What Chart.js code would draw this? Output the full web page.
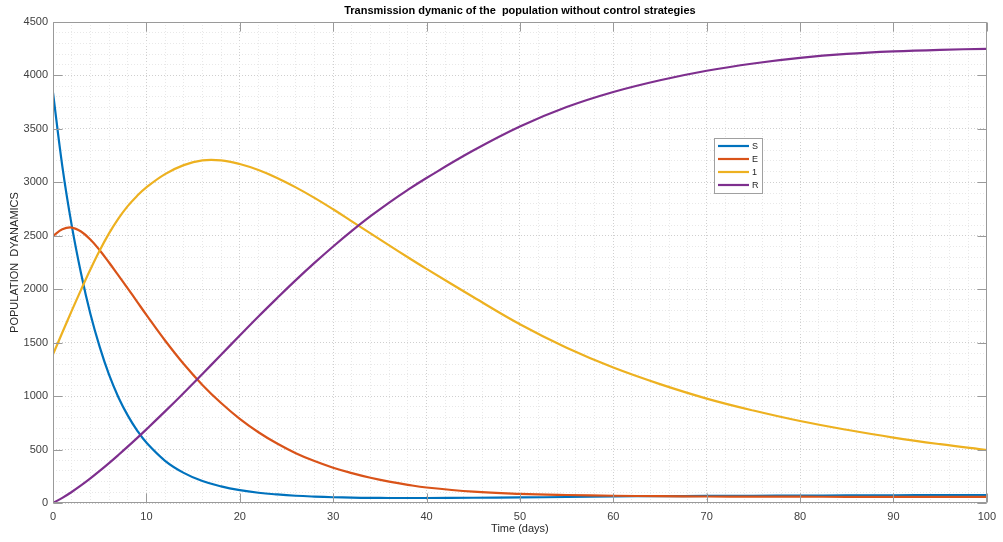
<!DOCTYPE html>
<html>
<head>
<meta charset="utf-8">
<script src="https://cdn.jsdelivr.net/npm/chart.js@4.4.1/dist/chart.umd.min.js"></script>
<style>
  html, body { margin: 0; padding: 0; background: #ffffff; }
  #wrap { width: 1003px; height: 542px; }
</style>
</head>
<body>
<div id="wrap"><canvas id="c" width="1003" height="542"></canvas></div>
<script>
// Sampling days of the simulation
const days = [0,1,2,3,4,5,6,7,8,9,10,12,14,16,18,20,22,24,26,28,30,32,34,36,38,40,45,50,55,60,65,70,75,80,85,90,95,100];

// Compartment sizes at each sampling day
const S = [3840,3150,2600,2150,1770,1460,1200,990,820,680,565,395,282,205,155,120,96,80,68,60,54,50,48,47,47,47,49,52,56,62,64,66,68,69,71,72,74,75];
const E = [2498,2560,2577,2540,2465,2365,2250,2130,2008,1884,1760,1520,1300,1105,935,787,662,556,466,392,330,280,236,200,170,145,106,86,75,68,64,61,60,59,58,58,58,58];
const I = [1390,1595,1797,1994,2184,2362,2522,2660,2777,2873,2953,3077,3161,3205,3205,3171,3115,3041,2953,2855,2748,2635,2522,2410,2299,2190,1927,1672,1452,1267,1112,977,865,767,685,612,550,495];
const R = [0,48,103,164,230,300,373,449,527,607,689,857,1030,1207,1387,1567,1745,1917,2085,2246,2400,2546,2683,2811,2930,3041,3297,3522,3704,3845,3955,4044,4112,4164,4201,4225,4240,4249];

const seriesNames = ['S', 'E', '1', 'R'];
const seriesColors = ['#0072BD', '#D95319', '#EDB120', '#7E2F8E'];

const xTicksMajor = [0,10,20,30,40,50,60,70,80,90,100];
const yTicksMajor = [0,500,1000,1500,2000,2500,3000,3500,4000,4500];

const titleText = 'Transmission dymanic of the  population without control strategies';
const xTitle = 'Time (days)';
const yTitle = 'POPULATION  DYANAMICS';

const FONT = '"Liberation Sans", Arial, Helvetica, sans-serif';
const AXIS_COLOR = '#9a9a9a';
const TEXT_COLOR = '#404040';

function toPoints(vals) {
  return days.map((d, i) => ({ x: d, y: vals[i] }));
}

const allSeries = [S, E, I, R];
const datasets = allSeries.map((vals, i) => ({
  label: seriesNames[i],
  data: toPoints(vals),
  borderColor: seriesColors[i],
  backgroundColor: seriesColors[i],
  borderWidth: 2.2,
  pointRadius: 0,
  fill: false,
  tension: 0.4,
  order: allSeries.length - 1 - i
}));

// Box, inward tick marks, titles and legend drawn on top of the plot
const framePlugin = {
  id: 'frame',
  afterDraw(chart) {
    const ctx = chart.ctx;
    const a = chart.chartArea;
    const xs = chart.scales.x;
    const ys = chart.scales.y;
    const L = Math.round(a.left) + 0.5, Rt = Math.round(a.right) - 0.5;
    const T = Math.round(a.top) + 0.5, B = Math.round(a.bottom) - 0.5;
    const tick = 9;

    ctx.save();
    ctx.strokeStyle = AXIS_COLOR;
    ctx.lineWidth = 1;
    ctx.setLineDash([]);
    ctx.beginPath();
    ctx.rect(L, T, Rt - L, B - T);
    xTicksMajor.forEach(v => {
      const px = Math.round(xs.getPixelForValue(v)) + 0.5;
      ctx.moveTo(px, B); ctx.lineTo(px, B - tick);
      ctx.moveTo(px, T); ctx.lineTo(px, T + tick);
    });
    yTicksMajor.forEach(v => {
      const py = Math.round(ys.getPixelForValue(v)) + 0.5;
      ctx.moveTo(L, py); ctx.lineTo(L + tick, py);
      ctx.moveTo(Rt, py); ctx.lineTo(Rt - tick, py);
    });
    ctx.stroke();

    // title
    const cx = (a.left + a.right) / 2;
    ctx.fillStyle = '#000000';
    ctx.font = 'bold 11px ' + FONT;
    ctx.textAlign = 'center';
    ctx.textBaseline = 'middle';
    ctx.fillText(titleText, cx, 11);

    // axis titles
    ctx.fillStyle = '#262626';
    ctx.font = '11px ' + FONT;
    ctx.fillText(xTitle, cx, 529);
    ctx.save();
    ctx.translate(15, (a.top + a.bottom) / 2);
    ctx.rotate(-Math.PI / 2);
    ctx.fillText(yTitle, 0, 0);
    ctx.restore();

    // legend
    const lx = 714, ly = 138, lw = 48, lh = 55;
    ctx.fillStyle = '#ffffff';
    ctx.fillRect(lx, ly, lw, lh);
    ctx.strokeStyle = '#a0a0a0';
    ctx.strokeRect(lx + 0.5, ly + 0.5, lw, lh);
    ctx.font = '9px ' + FONT;
    ctx.textAlign = 'left';
    ctx.textBaseline = 'middle';
    chart.data.datasets.forEach((ds, i) => {
      const y = ly + 8 + i * 13;
      ctx.strokeStyle = ds.borderColor;
      ctx.lineWidth = 2.2;
      ctx.beginPath();
      ctx.moveTo(718, y);
      ctx.lineTo(749, y);
      ctx.stroke();
      ctx.fillStyle = '#262626';
      ctx.fillText(ds.label, 752, y + 0.5);
    });
    ctx.restore();
  }
};

new Chart(document.getElementById('c'), {
  type: 'line',
  data: { datasets },
  plugins: [framePlugin],
  options: {
    responsive: false,
    animation: false,
    devicePixelRatio: 1,
    layout: { padding: { top: 22, right: 10, left: 0, bottom: 0 } },
    plugins: {
      legend: { display: false },
      title: { display: false },
      tooltip: { enabled: false }
    },
    scales: {
      x: {
        type: 'linear',
        min: 0,
        max: 100,
        afterFit(scale) { scale.height = 39; },
        border: { display: false, dash: [1, 2] },
        grid: {
          drawTicks: false,
          lineWidth: 1,
          color: ctx => (ctx.tick && ctx.tick.value % 10 === 0) ? '#cfcfcf' : '#e8e8e8'
        },
        ticks: {
          stepSize: 2,
          autoSkip: false,
          maxRotation: 0,
          padding: 7,
          color: TEXT_COLOR,
          font: { family: FONT, size: 11 },
          callback: v => (v % 10 === 0 ? String(v) : '')
        }
      },
      y: {
        type: 'linear',
        min: 0,
        max: 4500,
        afterFit(scale) { scale.width = 53; },
        border: { display: false, dash: [1, 2] },
        grid: {
          drawTicks: false,
          lineWidth: 1,
          color: ctx => (ctx.tick && ctx.tick.value % 500 === 0) ? '#cfcfcf' : '#e8e8e8'
        },
        ticks: {
          stepSize: 100,
          autoSkip: false,
          padding: 5,
          color: TEXT_COLOR,
          font: { family: FONT, size: 11 },
          callback: v => (v % 500 === 0 ? String(v) : '')
        }
      }
    }
  }
});
</script>
</body>
</html>
